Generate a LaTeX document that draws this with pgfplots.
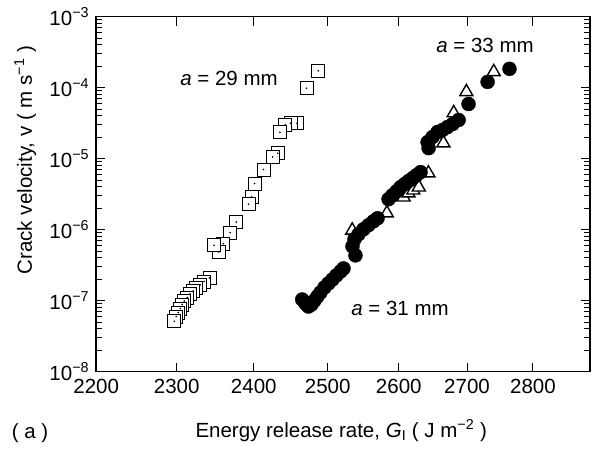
\documentclass[border=0pt]{standalone}
\usepackage{fontspec}
\setmainfont{Liberation Sans}
\usepackage{pgfplots}
\usepackage{pgfplotstable}
\pgfplotsset{compat=1.18}
% a = 29 mm (open squares), ordered so lower points are drawn on top
\pgfplotstableread{
G v
2487 1.73e-4
2471 9.84e-5
2458 3.15e-5
2449 3.15e-5
2442 2.98e-5
2435 2.35e-5
2432 1.19e-5
2425 1.06e-5
2413 7.06e-6
2401 4.48e-6
2397 2.90e-6
2393 2.29e-6
2377 1.285e-6
2369 9.10e-7
2360 6.37e-7
2354 4.84e-7
2348 6.02e-7
2342 2.09e-7
2335 1.87e-7
2330 1.67e-7
2325 1.51e-7
2321 1.37e-7
2317 1.24e-7
2313.5 1.11e-7
2309.6 9.9e-8
2307 8.83e-8
2304.6 7.76e-8
2302 6.81e-8
2299.5 5.98e-8
2297 5.13e-8
}\sqdata
% a = 31 mm (filled circles)
\pgfplotstableread{
G v
2465 1.04e-7
2469.5 9.13e-8
2473.5 8.28e-8
2477.6 8.83e-8
2481.8 1.007e-7
2485.8 1.146e-7
2490 1.306e-7
2495.5 1.536e-7
2501 1.75e-7
2506.5 1.99e-7
2512 2.27e-7
2517.7 2.58e-7
2521.9 2.85e-7
2538.6 4.35e-7
2534.4 5.83e-7
2537.2 7.32e-7
2542.8 8.61e-7
2549.8 1.014e-6
2556.8 1.153e-6
2564 1.315e-6
2569.7 1.45e-6
2585.4 2.69e-6
2591 3.06e-6
2596.9 3.48e-6
2602.6 3.97e-6
2608.4 4.38e-6
2614 4.83e-6
2620 5.32e-6
2625.7 5.86e-6
2631.5 6.47e-6
2643.2 1.41e-5
2641.8 1.71e-5
2649 2.02e-5
2656.4 2.38e-5
2663.7 2.54e-5
2671 2.79e-5
2678.5 3.08e-5
2687.4 3.51e-5
2702.2 5.9e-5
2730.8 1.208e-4
2764 1.845e-4
}\circdata
% a = 33 mm (open triangles)
\pgfplotstableread{
G v
2534 9.8e-7
2583 1.71e-6
2607 2.87e-6
2614 3.27e-6
2621 3.60e-6
2629 3.97e-6
2643 6.26e-6
2665 1.66e-5
2680 4.41e-5
2699 8.72e-5
2740 1.67e-4
}\tridata
\begin{document}
\fontsize{20.5}{24}\selectfont
\begin{tikzpicture}
\begin{axis}[
  at={(0,0)}, anchor=south west,
  scale only axis, width=494pt, height=355pt,
  xmode=log, ymode=log,
  xmin=2200, xmax=2890, ymin=1e-8, ymax=1e-3,
  xtick={2200,2300,2400,2500,2600,2700,2800},
  xticklabels={2200,2300,2400,2500,2600,2700,2800},
  minor xtick={},
  ytick={1e-8,1e-7,1e-6,1e-5,1e-4,1e-3},
  yticklabels={10\textsuperscript{−8},10\textsuperscript{−7},10\textsuperscript{−6},10\textsuperscript{−5},10\textsuperscript{−4},10\textsuperscript{−3}},
  axis line style={line width=1.4pt},
  every tick/.style={black, line width=1pt},
  major tick length=9pt, minor tick length=6pt,
  tick label style={font=\fontsize{20.5}{24}\selectfont},
  label style={font=\fontsize{20.5}{24}\selectfont},
  xlabel={Energy release rate, \textit{G}\textsubscript{I} ( J m\textsuperscript{−2} )},
  ylabel={Crack velocity, v ( m s\textsuperscript{−1} )},
  xlabel style={at={(axis description cs:0.496,-0.166)}, anchor=center},
  ylabel style={at={(axis description cs:-0.1437,0.596)}, anchor=center},
  clip=false,
]
\addplot[only marks, mark=square*, mark size=6.5pt, mark options={fill=white, draw=black, line width=0.8pt}] table[x=G,y=v] {\sqdata};
\addplot[only marks, mark=*, mark size=0.6pt, mark options={fill=black, draw=black}] table[x=G,y=v] {\sqdata};
\addplot[only marks, mark=triangle*, mark size=7.5pt, mark options={fill=white, draw=black, line width=1.4pt}] table[x=G,y=v] {\tridata};
\addplot[only marks, mark=*, mark size=7pt, mark options={fill=black, draw=black}] table[x=G,y=v] {\circdata};
\end{axis}
\node at (133pt,293pt) {\textit{a} = 29 mm};
\node at (389pt,326pt) {\textit{a} = 33 mm};
\node at (304pt,63pt) {\textit{a} = 31 mm};
\node at (-66pt,-61pt) {( a )};
\pgfresetboundingbox
\path[use as bounding box] (-96pt,-76.3pt) rectangle (500pt,371.7pt);
\end{tikzpicture}
\end{document}
